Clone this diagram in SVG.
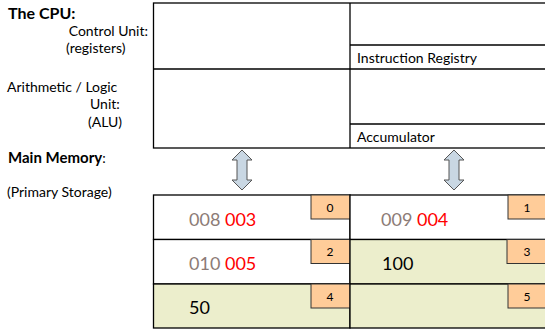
<svg xmlns="http://www.w3.org/2000/svg" width="545" height="331" viewBox="0 0 545 331">
<style>
text{font-family:Lato,"Liberation Sans",sans-serif;fill:#000}
.lbl{font-size:14px}
.b{font-weight:bold}
.box{fill:#fff;stroke:#000;stroke-width:1.3}
.g{fill:#ECEECC;stroke:#000;stroke-width:1.3}
.w{fill:#fff;stroke:#000;stroke-width:1.3}
.tag{fill:#FFCC99;stroke:#333;stroke-width:1}
.tn{font-size:12px;text-anchor:middle}
.v{font-size:18px}
.gr{fill:#8C7B76}
.rd{fill:#FF0000}
.arr{fill:#C9D7E3;stroke:#555;stroke-width:1}
</style>
<g id="labels">
<text x="8" y="19" class="b" font-size="16">The CPU:</text>
<text x="148" y="36" class="lbl" text-anchor="end">Control Unit:</text>
<text x="66" y="53" class="lbl">(registers)</text>
<text x="7" y="92" class="lbl">Arithmetic / Logic</text>
<text x="90" y="109" class="lbl">Unit:</text>
<text x="88" y="127" class="lbl">(ALU)</text>
<text x="8" y="163" class="lbl"><tspan class="b" font-size="15">Main Memory</tspan>:</text>
<text x="7" y="197" class="lbl">(Primary Storage)</text>
</g>
<g id="cpu">
<rect x="153.5" y="3" width="400" height="145" class="box"/>
<line x1="350" y1="3" x2="350" y2="148" stroke="#000" stroke-width="1.3"/>
<line x1="153.5" y1="69" x2="550" y2="69" stroke="#000" stroke-width="1.3"/>
<line x1="350" y1="45" x2="550" y2="45" stroke="#000" stroke-width="1.3"/>
<line x1="350" y1="124" x2="550" y2="124" stroke="#000" stroke-width="1.3"/>
<text x="357" y="63" class="lbl">Instruction Registry</text>
<text x="357" y="142" class="lbl">Accumulator</text>
</g>
<g id="connectors">
<path class="arr" d="M242,150 L252,160 L247,160 L247,180 L252,180 L242,190 L232,180 L237,180 L237,160 L232,160 Z"/>
<path class="arr" d="M454,150 L464,160 L459,160 L459,180 L464,180 L454,190 L444,180 L449,180 L449,160 L444,160 Z"/>
</g>
<g id="memory">
<g id="cell0">
<rect x="153.5" y="195" width="196.5" height="44.5" class="w"/>
<rect x="311" y="195" width="39" height="24" class="tag"/>
<text x="330" y="212" class="tn">0</text>
<text x="189" y="226" class="v"><tspan class="gr">008 </tspan><tspan class="rd">003</tspan></text>
</g>
<g id="cell1">
<rect x="350" y="195" width="200" height="44.5" class="w"/>
<rect x="508" y="195" width="42" height="24" class="tag"/>
<text x="527" y="212" class="tn">1</text>
<text x="381" y="226" class="v"><tspan class="gr">009 </tspan><tspan class="rd">004</tspan></text>
</g>
<g id="cell2">
<rect x="153.5" y="239.5" width="196.5" height="44.5" class="w"/>
<rect x="311" y="239.5" width="39" height="24" class="tag"/>
<text x="330" y="256" class="tn">2</text>
<text x="189" y="270" class="v"><tspan class="gr">010 </tspan><tspan class="rd">005</tspan></text>
</g>
<g id="cell3">
<rect x="350" y="239.5" width="200" height="44.5" class="g"/>
<rect x="507" y="239.5" width="43" height="24" class="tag"/>
<text x="527" y="256" class="tn">3</text>
<text x="382" y="270" class="v">100</text>
</g>
<g id="cell4">
<rect x="153.5" y="284" width="196.5" height="44" class="g"/>
<rect x="311" y="284" width="39" height="24" class="tag"/>
<text x="330" y="301" class="tn">4</text>
<text x="189" y="314" class="v">50</text>
</g>
<g id="cell5">
<rect x="350" y="284" width="200" height="44" class="g"/>
<rect x="508" y="284" width="42" height="24" class="tag"/>
<text x="527" y="301" class="tn">5</text>
</g>
</g>
</svg>
